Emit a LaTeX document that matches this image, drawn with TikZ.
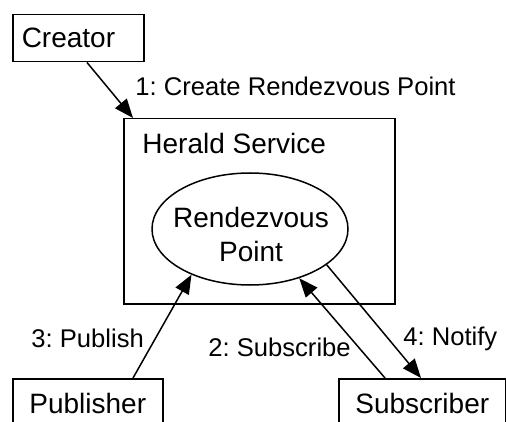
\documentclass[tikz,border=0pt]{standalone}
\usepackage{fontspec}
\setmainfont{Liberation Sans}
\usetikzlibrary{arrows.meta,calc,shapes.geometric}
\frenchspacing

\begin{document}
\begin{tikzpicture}[x=0.5pt,y=-0.5pt,
  box/.style={draw,line width=0.75pt,inner sep=0pt,font=\fontsize{14}{16}\selectfont},
  lbl/.style={inner sep=0pt,anchor=west,font=\fontsize{12.8}{15}\selectfont},
  conn/.style={line width=0.75pt,-{Triangle[length=9.5pt,width=7.5pt]}}]
  \useasboundingbox (0,0) rectangle (506,421);
  \clip (0,0) rectangle (506,421);

  % actor boxes
  \node[box,anchor=north west,minimum width=65.5pt,minimum height=23.5pt,
        text width=56.5pt,inner xsep=4.5pt,align=left] (creator) at (12,14) {Creator};
  \node[box,anchor=north west,minimum width=75pt,minimum height=25pt,align=center]
        (pub) at (12,378) {Publisher};
  \node[box,anchor=north west,minimum width=83.5pt,minimum height=25pt,align=center]
        (sub) at (338,378) {Subscriber};

  % service container and its rendezvous point
  \node[box,anchor=north west,minimum width=135.5pt,minimum height=92.5pt] (herald) at (123,118) {};
  \node[inner sep=0pt,anchor=west,font=\fontsize{14}{16}\selectfont] (hs) at (142,143) {Herald Service};
  \node[box,ellipse,minimum width=98pt,minimum height=56pt] (rp) at (250,229) {};
  \node[inner sep=0pt,align=center,font=\fontsize{14}{17}\selectfont] (rptext) at (251,234) {Rendezvous\\Point};

  % messages
  \draw[conn] ($(creator.south west)+(75,0)$) -- ($(herald.north west)+(10,0)$);
  \draw[conn] ($(pub.north west)+(121,0)$) -- (rp.218);
  \draw[conn] ($(sub.north west)+(47,0)$) -- (rp.315);
  \draw[conn] (rp.335) -- ($(sub.north west)+(83,0)$);

  % message labels
  \node[lbl] (l1) at (135,86) {1: Create Rendezvous Point};
  \node[lbl] (l3) at (31,338) {3: Publish};
  \node[lbl] (l2) at (208,347) {2: Subscribe};
  \node[lbl] (l4) at (403,339) {4: Notify};
\end{tikzpicture}
\end{document}
